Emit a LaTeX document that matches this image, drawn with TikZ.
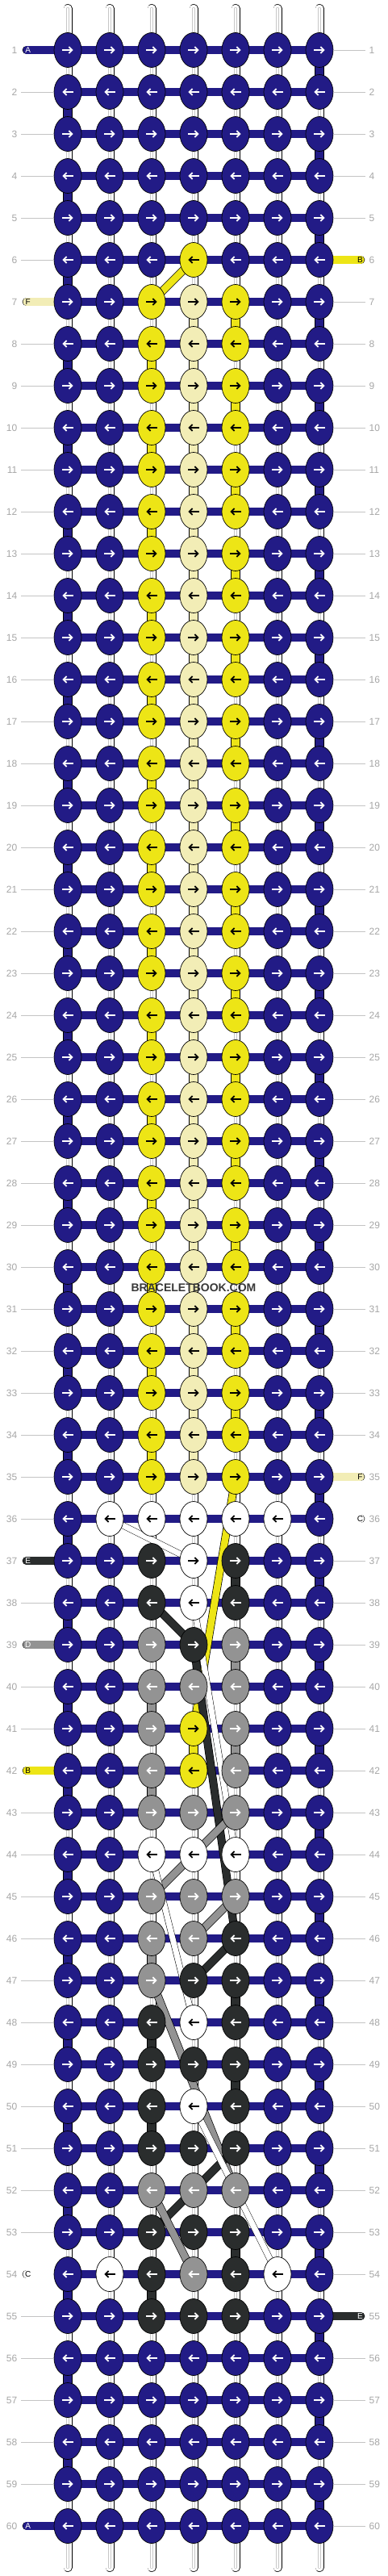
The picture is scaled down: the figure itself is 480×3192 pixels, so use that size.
\documentclass[tikz,border=0pt]{standalone}
\usepackage{fontspec}
\setmainfont{Liberation Sans}
\usetikzlibrary{shapes.geometric,arrows.meta}
\definecolor{cN}{HTML}{221B86}
\definecolor{cY}{HTML}{EDE516}
\definecolor{cP}{HTML}{F2EDB6}
\definecolor{cW}{HTML}{FFFFFF}
\definecolor{cK}{HTML}{2A2D2D}
\definecolor{cG}{HTML}{939393}
\definecolor{numgray}{HTML}{A6A6A6}
\definecolor{linegray}{HTML}{C4C4C4}
\pgfdeclarelayer{strings}
\pgfdeclarelayer{bars}
\pgfdeclarelayer{strands}
\pgfsetlayers{strings,bars,strands,main}
\begin{document}
\begin{tikzpicture}[x=1pt,y=-1pt,line join=round,
	>={Straight Barb[length=4pt,width=8pt]},
	knot/.style={ellipse,draw=black,line width=0.7pt,minimum width=34pt,minimum height=43pt,inner sep=0pt},
	kN/.style={knot,fill=cN},kY/.style={knot,fill=cY},kP/.style={knot,fill=cP},
	kW/.style={knot,fill=cW},kK/.style={knot,fill=cK},kG/.style={knot,fill=cG},
	aN/.style={white},aK/.style={white},aG/.style={white},
	aY/.style={black},aP/.style={black},aW/.style={black},
	knotarrow/.style={->,line width=1.8pt},
	strng/.style={draw=black,line width=0.7pt,double=white,double distance=9.6pt,line cap=round},
	strngcore/.style={draw=black!22,line width=0.6pt,double=white,double distance=2pt,line cap=round},
	seg/.style={draw=black,line width=0.7pt,double=#1,double distance=10.3pt},
	bar/.style={draw=black,line width=0.7pt,double=cN,double distance=9.3pt},
	tab/.style={draw=black,line width=0.7pt,double=#1,double distance=9.3pt,line cap=round},
	strand/.style={draw=black,line width=0.7pt,double=#1,double distance=8.6pt},
	thinstrand/.style={draw=black,line width=0.5pt,double=white,double distance=7pt},
	rownum/.style={text=numgray,font=\fontsize{12}{12}\selectfont,inner xsep=4.5pt},
	rowline/.style={draw=linegray,line width=0.9pt},
	tabletter/.style={font=\fontsize{10}{10}\selectfont,inner sep=0pt}]
	\useasboundingbox (0,0) rectangle (480,3192);
	
	\foreach \ra/\rb/\row in {1/5/{N,N,N,N,N,N,N},6/6/{N,N,N,Y,N,N,N},7/35/{N,N,Y,P,Y,N,N},
		36/36/{N,W,W,W,W,W,N},37/38/{N,N,K,W,K,N,N},39/39/{N,N,G,K,G,N,N},40/40/{N,N,G,G,G,N,N},
		41/42/{N,N,G,Y,G,N,N},43/43/{N,N,G,G,G,N,N},44/44/{N,N,W,W,W,N,N},45/45/{N,N,G,G,G,N,N},
		46/46/{N,N,G,G,K,N,N},47/47/{N,N,G,K,K,N,N},48/48/{N,N,K,W,K,N,N},49/49/{N,N,K,K,K,N,N},
		50/50/{N,N,K,W,K,N,N},51/51/{N,N,K,K,K,N,N},52/52/{N,N,G,G,G,N,N},53/53/{N,N,K,K,K,N,N},
		54/54/{N,W,K,G,K,W,N},55/55/{N,N,K,K,K,N,N},56/60/{N,N,N,N,N,N,N}}
	\foreach \r in {\ra,...,\rb}{
		\pgfmathsetmacro\xs{mod(\r,2)==1 ? -6.7 : 6.7}
		\pgfmathsetmacro\xe{mod(\r,2)==1 ? 6.7 : -6.7}
		\foreach \k [count=\c] in \row{
			\node[k\k] (k-\r-\c) at ({32+52*\c},{10+52*\r}) {};
			\draw[knotarrow,a\k] ([xshift=\xs pt]k-\r-\c.center) -- ([xshift=\xe pt]k-\r-\c.center);
		}
	}
	
	\begin{pgfonlayer}{strings}
		\foreach \c in {1,...,7}{
			\coordinate (s-\c-top) at ({32+52*\c},10.5);
			\coordinate (s-\c-bot) at ({32+52*\c},3181.5);
			\draw[strng] (s-\c-top) -- (s-\c-bot);
			\draw[strngcore] (s-\c-top) -- (s-\c-bot);
		}
		\foreach \r in {1,...,59}{
			\pgfmathtruncatemacro\rn{\r+1}
			\pgfmathtruncatemacro\wc{mod(\r,2)==1 ? 7 : 1}
			\draw[seg=cN] (k-\r-\wc.center) -- (k-\rn-\wc.center);
		}
		\foreach \r in {7,9,...,33}{
			\pgfmathtruncatemacro\rn{\r+1}
			\draw[seg=cP] (k-\r-4.center) -- (k-\rn-4.center);
			\draw[seg=cY] (k-\r-5.center) -- (k-\rn-5.center);
		}
		\foreach \r in {8,10,...,34}{
			\pgfmathtruncatemacro\rn{\r+1}
			\draw[seg=cY] (k-\r-3.center) -- (k-\rn-3.center);
			\draw[seg=cP] (k-\r-4.center) -- (k-\rn-4.center);
		}
		\foreach \r/\c/\col in {37/5/cK,39/5/cG,40/3/cG,41/4/cY,41/5/cG,42/3/cG,46/3/cG,
			47/5/cK,48/3/cK,49/5/cK,50/3/cK,53/5/cK,54/3/cK}{
			\pgfmathtruncatemacro\rn{\r+1}
			\draw[seg=\col] (k-\r-\c.center) -- (k-\rn-\c.center);
		}
	\end{pgfonlayer}
	
	\begin{pgfonlayer}{bars}
		\foreach \r in {1,...,60}
		\draw[bar] (k-\r-1.center) -- (k-\r-7.center);
		\foreach \r/\sd/\col/\txt/\tc in {1/l/cN/A/white,6/r/cY/B/black,7/l/cP/F/black,
			35/r/cP/F/black,36/r/cW/C/black,37/l/cK/E/white,39/l/cG/D/white,42/l/cY/B/black,
			54/l/cW/C/black,55/r/cK/E/white,60/l/cN/A/white}{
			\if l\sd
				\coordinate (t-\r) at (33,{10+52*\r});
				\draw[tab=\col] (t-\r) -- (k-\r-1.center);
				\node[tabletter,text=\tc] (tl-\r) at ([xshift=1.7pt]t-\r) {\txt};
			\else
				\coordinate (t-\r) at (447,{10+52*\r});
				\draw[tab=\col] (k-\r-7.center) -- (t-\r);
				\node[tabletter,text=\tc] (tl-\r) at ([xshift=-0.6pt]t-\r) {\txt};
			\fi
		}
	\end{pgfonlayer}
	
	\begin{pgfonlayer}{strands}
		\foreach \ra/\ca/\rb/\cb/\col in {6/4/7/3/cY,35/5/41/4/cY,38/3/39/4/cK,39/4/46/5/cK,
			43/5/45/3/cG,45/5/46/4/cG,46/5/47/4/cK,47/3/52/5/cG,51/5/53/3/cK,52/3/54/4/cG}
		\draw[strand=\col] (k-\ra-\ca.center) -- (k-\rb-\cb.center);
		\foreach \ra/\ca/\rb/\cb in {36/2/37/4,38/4/44/5,44/3/48/4,50/4/54/6}
		\draw[thinstrand] (k-\ra-\ca.center) -- (k-\rb-\cb.center);
	\end{pgfonlayer}
	
	\foreach \r in {1,...,60}{
		\node[rownum,anchor=east] (l-\r) at (26,{10+52*\r}) {\r};
		\node[rownum,anchor=west] (r-\r) at (453,{10+52*\r}) {\r};
		\pgfmathtruncatemacro\hasl{(\r==1)||(\r==7)||(\r==37)||(\r==39)||(\r==42)||(\r==54)||(\r==60)}
		\pgfmathtruncatemacro\hasr{(\r==6)||(\r==35)||(\r==36)||(\r==55)}
		\ifnum\hasl=0 \draw[rowline] (l-\r) -- (k-\r-1); \fi
		\ifnum\hasr=0 \draw[rowline] (k-\r-7) -- (r-\r); \fi
	}
	
	\node[font=\bfseries\fontsize{14}{14}\selectfont,text=black!78] (wm) at (240,1596) {BRACELETBOOK.COM};
\end{tikzpicture}
\end{document}
